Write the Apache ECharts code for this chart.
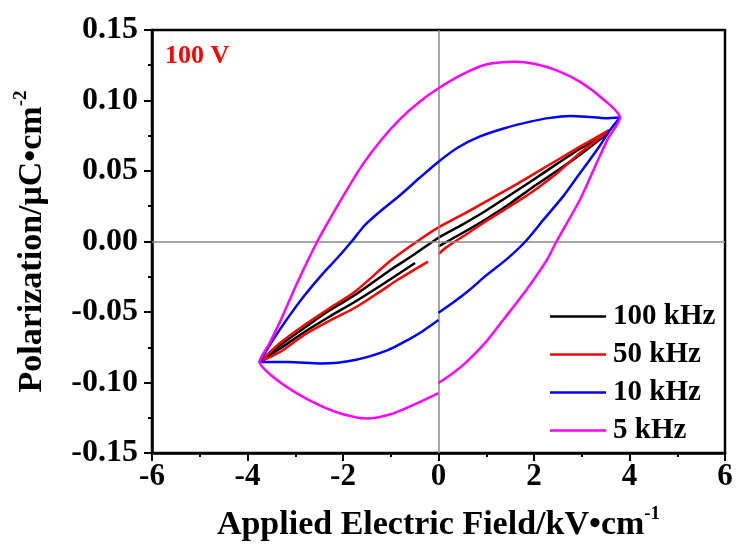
<!DOCTYPE html>
<html>
<head>
<meta charset="utf-8">
<script src="https://cdn.jsdelivr.net/npm/echarts@6/dist/echarts.min.js"></script>
<style>
html,body{margin:0;padding:0;background:#fff;}
#chart{width:737px;height:550px;}
</style>
</head>
<body>
<div id="chart"></div>
<script>
// ---- Data (field kV/cm, polarization µC/cm²), each loop traced in measurement order ----
const seriesNames = ['100 kHz', '50 kHz', '10 kHz', '5 kHz'];
const seriesColors = ['#000000', '#ff0000', '#0000ff', '#ff00ff'];

const loop100kHz = [
  [0,-0.0035],[0.5,0.006],[1.0,0.016],[1.5,0.027],[1.98,0.0387],[2.5,0.0505],[3.0,0.0625],[3.55,0.077],
  [3.0,0.0665],[2.5,0.0555],[1.98,0.0436],[1.5,0.033],[1.0,0.022],[0.5,0.012],[0,0.0027],[-0.5,-0.009],
  [-1.0,-0.020],[-1.75,-0.038],[-2.27,-0.0486],[-2.8,-0.061],[-3.3,-0.073],[-3.75,-0.0855],
  [-3.3,-0.0755],[-2.8,-0.064],[-2.27,-0.053],[-1.75,-0.0427],[-1.2,-0.031],[-0.49,-0.0153]
];

const loop50kHz = [
  [0,-0.009],[0.17,-0.004],[0.6,0.0055],[1.0,0.0145],[1.5,0.025],[1.92,0.0342],[2.5,0.049],[2.96,0.0628],[3.3,0.0715],[3.57,0.079],
  [3.0,0.068],[2.5,0.058],[2.0,0.048],[1.5,0.038],[1.0,0.0285],[0.5,0.019],[0,0.010],[-0.45,0],[-1.0,-0.0135],
  [-1.75,-0.0356],[-2.27,-0.047],[-2.8,-0.059],[-3.3,-0.0715],[-3.75,-0.0855],
  [-3.3,-0.078],[-2.8,-0.066],[-2.27,-0.056],[-1.75,-0.047],[-1.2,-0.035],[-0.87,-0.0275],[-0.22,-0.0143]
];

const loop10kHz = [
  [0,-0.0505],[0.3,-0.0435],[0.66,-0.034],[1.0,-0.024],[1.43,-0.0125],[1.82,0],[2.2,0.0155],[2.61,0.032],
  [2.9,0.0455],[3.17,0.058],[3.4,0.069],[3.59,0.079],[3.8,0.088],
  [3.5,0.0875],[3.1,0.0885],[2.75,0.089],[2.3,0.0875],[1.92,0.085],[1.4,0.0805],[0.87,0.0745],[0.4,0.0665],
  [0,0.0566],[-0.4,0.045],[-0.8,0.033],[-1.2,0.022],[-1.54,0.0117],[-1.82,0],[-2.1,-0.011],[-2.45,-0.0238],
  [-2.8,-0.038],[-3.15,-0.054],[-3.45,-0.069],[-3.75,-0.0855],
  [-3.15,-0.0855],[-2.45,-0.0865],[-1.75,-0.084],[-1.06,-0.077],[-0.6,-0.069],[-0.35,-0.064],[0,-0.0557]
];

const loop5kHz = [
  [0,-0.1004],[0.3,-0.0935],[0.6,-0.085],[1.0,-0.071],[1.3,-0.058],[1.6,-0.045],[1.87,-0.033],[2.27,-0.013],
  [2.47,0],[2.96,0.0294],[3.31,0.0555],[3.55,0.073],[3.8,0.088],
  [3.5,0.0995],[3.0,0.1125],[2.5,0.121],[2.0,0.126],[1.6,0.1275],[1.0,0.1255],[0.5,0.1185],[0,0.1087],
  [-0.4,0.099],[-0.8,0.087],[-1.2,0.072],[-1.6,0.054],[-2.0,0.032],[-2.3,0.0145],[-2.54,0],[-2.96,-0.0294],
  [-3.32,-0.057],[-3.55,-0.073],[-3.75,-0.0855],
  [-3.5,-0.095],[-3.0,-0.107],[-2.5,-0.116],[-2.0,-0.1225],[-1.5,-0.1255],[-1.0,-0.1225],[-0.5,-0.1155],[0,-0.1075]
];

const xRange = [-6, 6, 2];      // min, max, interval
const yRange = [-0.15, 0.15, 0.05];
const annotation = '100 V';

// ---- Chart ----
const FONT = '"Liberation Serif","Times New Roman",serif';
const chart = echarts.init(document.getElementById('chart'), null, {renderer: 'canvas'});
const loops = [loop100kHz, loop50kHz, loop10kHz, loop5kHz];

const series = loops.map((d, i) => ({
  name: seriesNames[i],
  type: 'line',
  data: d,
  showSymbol: false,
  symbol: 'none',
  smooth: 0.25,
  z: 3 + i,
  lineStyle: {color: seriesColors[i], width: 2.5},
  itemStyle: {color: seriesColors[i]}
}));

series.push({
  name: 'zero',
  type: 'line',
  data: [],
  z: 1,
  markLine: {
    silent: true,
    symbol: 'none',
    label: {show: false},
    lineStyle: {color: '#8a8a8a', width: 1.5, type: 'solid'},
    data: [{xAxis: 0}, {yAxis: 0}]
  }
});

const axisCommon = {
  axisLine: {show: true, onZero: false, lineStyle: {color: '#000', width: 2.5}},
  axisTick: {show: true, inside: false, length: 8, lineStyle: {color: '#000', width: 2}},
  minorTick: {show: true, splitNumber: 2, length: 4, lineStyle: {color: '#000', width: 2}},
  splitLine: {show: false},
  minorSplitLine: {show: false},
  nameTextStyle: {
    color: '#000',
    rich: {
      b: {fontFamily: FONT, fontWeight: 'bold', fontSize: 34, lineHeight: 40, color: '#000'},
      s: {fontFamily: FONT, fontWeight: 'bold', fontSize: 19, lineHeight: 19, verticalAlign: 'top', color: '#000'}
    }
  }
};

const option = {
  animation: false,
  backgroundColor: '#fff',
  title: {
    text: annotation,
    left: 160, top: 38,
    textStyle: {fontFamily: FONT, fontWeight: 'bold', fontSize: 26, color: '#ff0000'}
  },
  legend: {
    data: seriesNames,
    orient: 'vertical',
    left: 550, top: 302,
    padding: 0,
    icon: 'rect',
    itemWidth: 56, itemHeight: 2.5,
    itemGap: 9,
    textStyle: {fontFamily: FONT, fontWeight: 'bold', fontSize: 29, color: '#000', lineHeight: 29, padding: [0, 0, 0, 2]}
  },
  grid: {
    left: 152, right: 12, top: 30, bottom: 97,
    show: true, borderColor: '#000', borderWidth: 2.5,
    containLabel: false,
    outerBoundsMode: 'none'
  },
  xAxis: Object.assign({}, axisCommon, {
    type: 'value',
    min: xRange[0], max: xRange[1], interval: xRange[2],
    name: '{b|Applied Electric Field/kV•cm}{s|-1}',
    nameLocation: 'middle', nameGap: 52,
    axisLabel: {fontFamily: FONT, fontWeight: 'bold', fontSize: 31, color: '#000', margin: 8}
  }),
  yAxis: Object.assign({}, axisCommon, {
    type: 'value',
    min: yRange[0], max: yRange[1], interval: yRange[2],
    name: '{b|Polarization/μC•cm}{s|-2}',
    nameLocation: 'middle', nameGap: 100, nameRotate: 90,
    axisLabel: {fontFamily: FONT, fontWeight: 'bold', fontSize: 32, color: '#000', margin: 14,
      formatter: v => v.toFixed(2)}
  }),
  series: series
};
chart.setOption(option);
</script>
</body>
</html>
